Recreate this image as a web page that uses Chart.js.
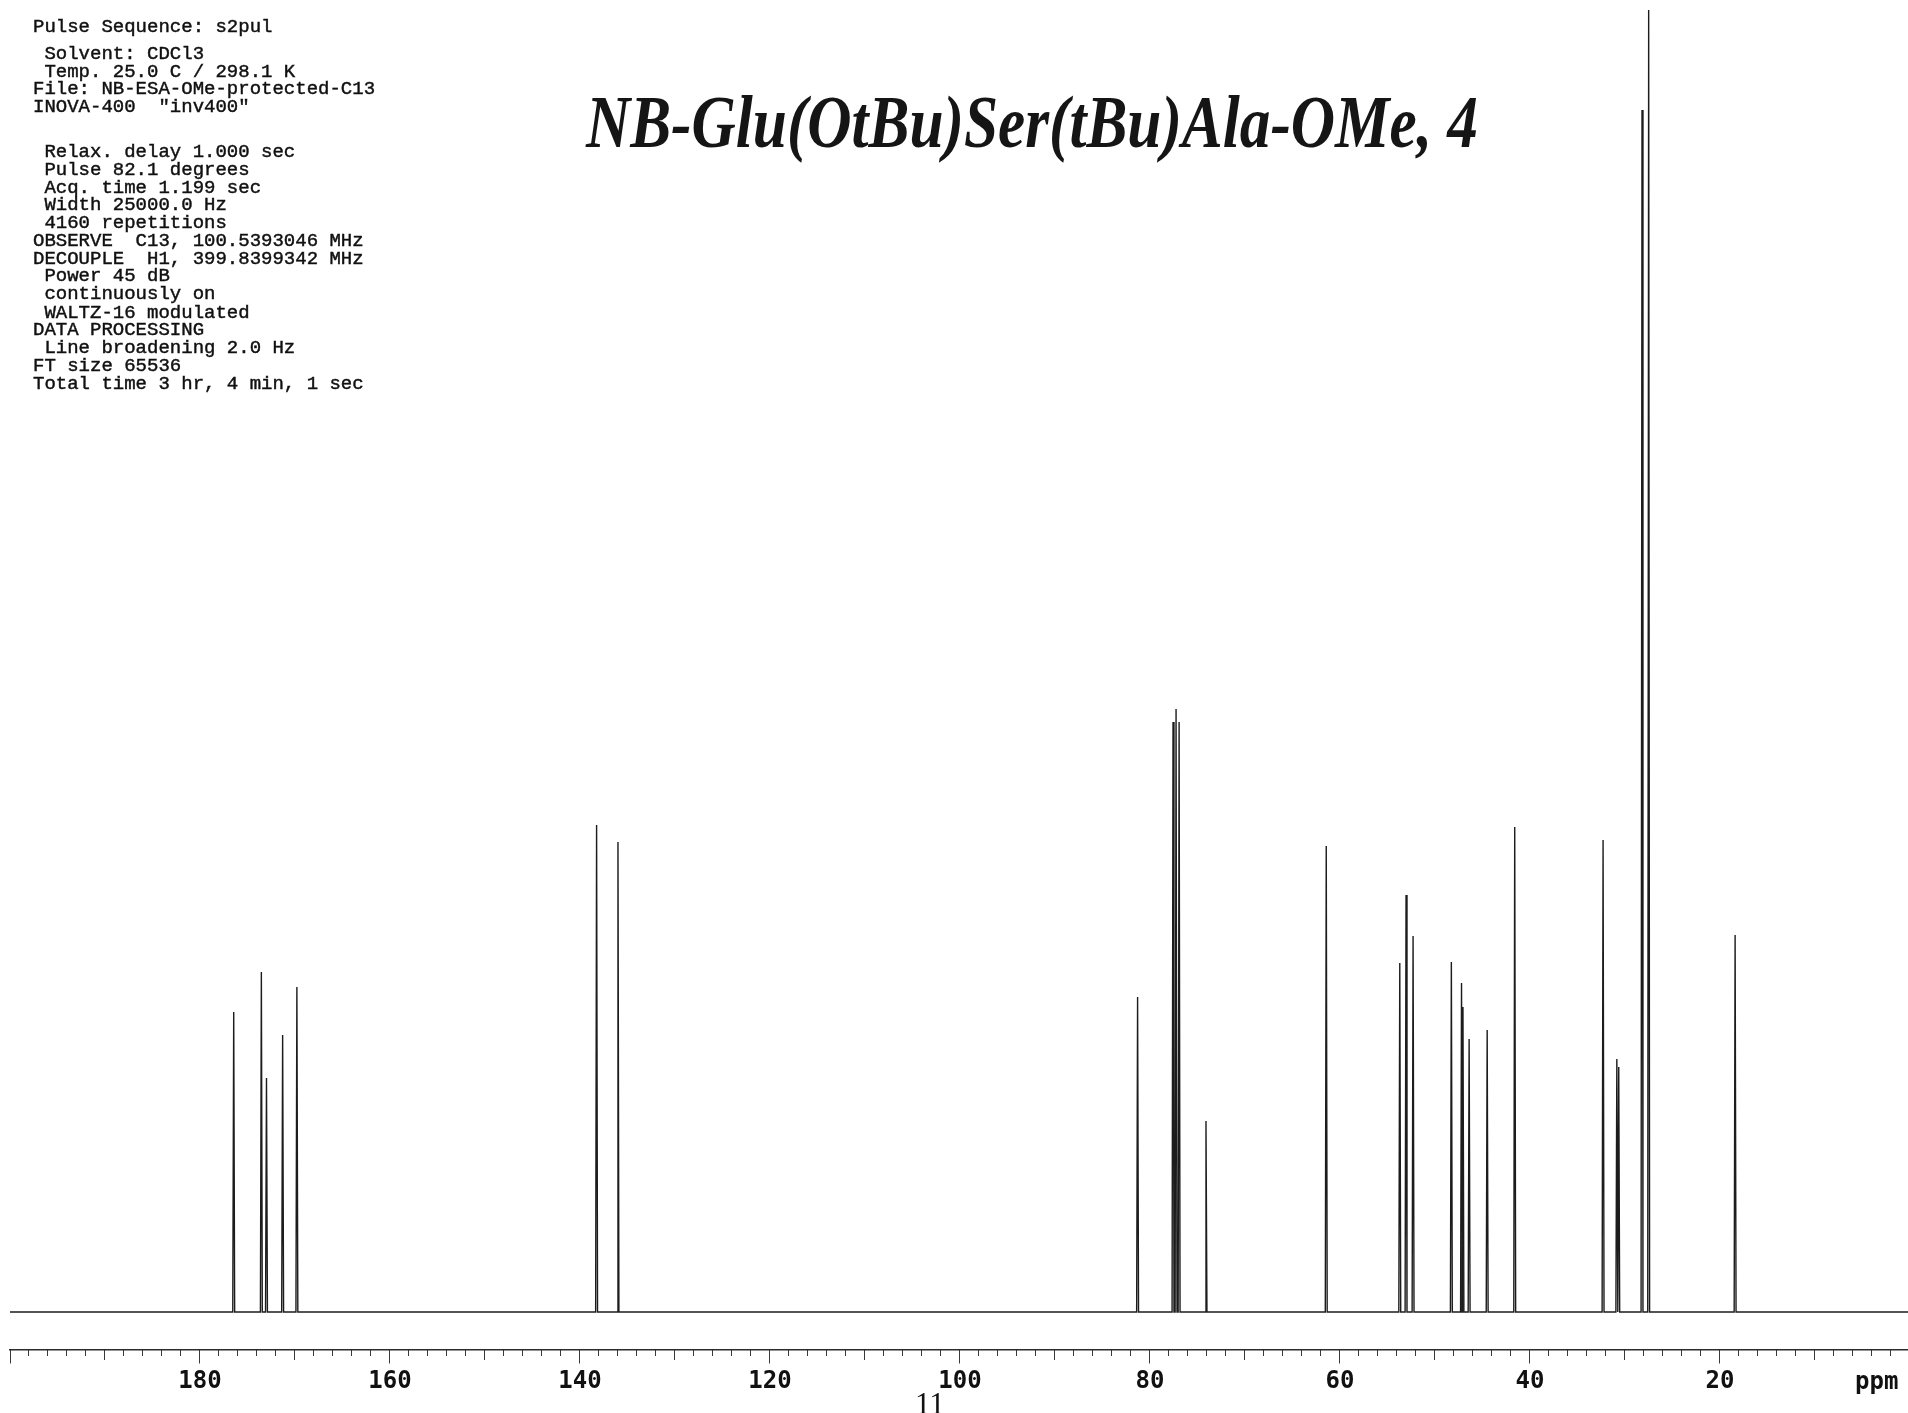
<!DOCTYPE html>
<html>
<head>
<meta charset="utf-8">
<script src="https://cdn.jsdelivr.net/npm/chart.js@4/dist/chart.umd.min.js"></script>
<style>
html,body{margin:0;padding:0;background:#fff;}
#wrap{position:relative;width:1908px;height:1413px;overflow:hidden;background:#fff;}
#c{position:absolute;left:0;top:0;}
.hdr{position:absolute;left:33px;font-family:"Liberation Mono",monospace;font-size:19px;line-height:19px;white-space:pre;color:#111;-webkit-text-stroke:0.45px #111;}
#title{position:absolute;left:586px;top:84px;font-family:"Liberation Serif",serif;font-weight:bold;font-style:italic;font-size:75px;line-height:75px;white-space:pre;color:#151515;transform-origin:0 0;}
#ppm{position:absolute;left:1855px;top:1369px;font-family:"DejaVu Sans Mono",monospace;font-weight:bold;font-size:24px;line-height:24px;color:#111;}
#pageno{position:absolute;left:915px;top:1388px;font-family:"Liberation Serif",serif;font-size:31px;line-height:31px;color:#111;}
</style>
</head>
<body>
<div id="wrap">
<canvas id="c" width="1908" height="1413"></canvas>
<div id="title"></div>
<div id="ppm"></div>
<div id="pageno"></div>
</div>
<script>
// ---- data ----
const peakPpm    = [176.45, 173.54, 173.0, 171.3, 169.8, 138.25, 136.0, 81.3, 77.57, 77.25, 76.93, 74.1, 61.44, 53.7, 53.04, 52.3, 48.27, 47.2, 47.05, 46.4, 44.5, 41.6, 32.3, 30.85, 30.65, 28.2, 27.5, 18.4];
const peakHeight = [300, 340, 234, 277, 325, 487, 470, 315, 590, 603, 590, 191, 466, 349, 417, 376, 350, 329, 305, 273, 282, 485, 472, 253, 245, 1202, 1302, 377];
const majorTicks  = [200, 180, 160, 140, 120, 100, 80, 60, 40, 20];
const xTickLabels = ['', '180', '160', '140', '120', '100', '80', '60', '40', '20'];
const xRange = [200, 0.2];        // ppm, left to right
const axisUnit = 'ppm';
const titleText = 'NB-Glu(OtBu)Ser(tBu)Ala-OMe, 4';
const pageNumber = '11';
const headerLines = [
  'Pulse Sequence: s2pul',
  ' Solvent: CDCl3',
  ' Temp. 25.0 C / 298.1 K',
  'File: NB-ESA-OMe-protected-C13',
  'INOVA-400  "inv400"',
  ' Relax. delay 1.000 sec',
  ' Pulse 82.1 degrees',
  ' Acq. time 1.199 sec',
  ' Width 25000.0 Hz',
  ' 4160 repetitions',
  'OBSERVE  C13, 100.5393046 MHz',
  'DECOUPLE  H1, 399.8399342 MHz',
  ' Power 45 dB',
  ' continuously on',
  ' WALTZ-16 modulated',
  'DATA PROCESSING',
  ' Line broadening 2.0 Hz',
  'FT size 65536',
  'Total time 3 hr, 4 min, 1 sec'
];

// ---- layout / style (not data) ----
const headerBaselines = [32.7, 59.3, 77.3, 95, 112.7, 157.7, 175.7, 193.3, 210.7, 228.7, 246.7, 264.3, 282, 300, 318.3, 336, 354, 372, 390];
const peakHalfWidth = 0.1;
const axisAt = -38;

// header text
const wrap = document.getElementById('wrap');
headerLines.forEach((t, i) => {
  const d = document.createElement('div');
  d.className = 'hdr';
  d.textContent = t;
  d.style.top = (headerBaselines[i] - 14.6) + 'px';
  wrap.appendChild(d);
});
const tEl = document.getElementById('title');
tEl.textContent = titleText;
const mctx = document.createElement('canvas').getContext('2d');
mctx.font = 'italic bold 75px "Liberation Serif"';
const tw = mctx.measureText(titleText).width;
tEl.style.transform = 'scaleX(' + (892 / tw) + ')';
document.getElementById('ppm').textContent = axisUnit;
document.getElementById('pageno').textContent = pageNumber;

// spectrum trace built from the peak arrays
const trace = [{x: xRange[0], y: 0}];
peakPpm.forEach((p, i) => {
  trace.push({x: p + peakHalfWidth, y: 0});
  trace.push({x: p, y: peakHeight[i]});
  trace.push({x: p - peakHalfWidth, y: 0});
});
trace.push({x: xRange[1], y: 0});

const xMin = xRange[1], xMax = xRange[0];
function tickAxis(step, len) {
  return {
    type: 'linear', axis: 'x', reverse: true, min: xMin, max: xMax,
    position: {y: axisAt},
    ticks: {stepSize: step, includeBounds: false, display: false, autoSkip: false},
    grid: {drawOnChartArea: false, drawTicks: true, tickLength: len, tickColor: '#3a3a3a', tickWidth: 1},
    border: {display: false}
  };
}

new Chart(document.getElementById('c'), {
  type: 'line',
  data: {
    datasets: [{
      data: trace,
      xAxisID: 'x', yAxisID: 'y',
      borderColor: '#1c1c1c', borderWidth: 1.4,
      pointRadius: 0, tension: 0, fill: false
    }]
  },
  options: {
    responsive: false, animation: false, devicePixelRatio: 1,
    parsing: false, normalized: true,
    layout: {padding: {left: 10, right: 0, top: 0, bottom: 0}},
    plugins: {legend: {display: false}, tooltip: {enabled: false}, title: {display: false}},
    scales: {
      y: {display: false, min: -101, max: 1312},
      xMinor: tickAxis(2, 6),
      xMid: tickAxis(10, 10),
      x: {
        type: 'linear', axis: 'x', reverse: true, min: xMin, max: xMax,
        position: {y: axisAt},
        afterBuildTicks: (scale) => { scale.ticks = majorTicks.map(v => ({value: v})); },
        ticks: {
          autoSkip: false, maxRotation: 0, minRotation: 0,
          padding: 4, color: '#111',
          font: {family: 'DejaVu Sans Mono', weight: 'bold', size: 24},
          callback: (v, i) => xTickLabels[i]
        },
        grid: {drawOnChartArea: false, drawTicks: true, tickLength: 13, tickColor: '#3a3a3a', tickWidth: 1},
        border: {display: true, color: '#2a2a2a', width: 1.5}
      }
    }
  }
});
</script>
</body>
</html>
